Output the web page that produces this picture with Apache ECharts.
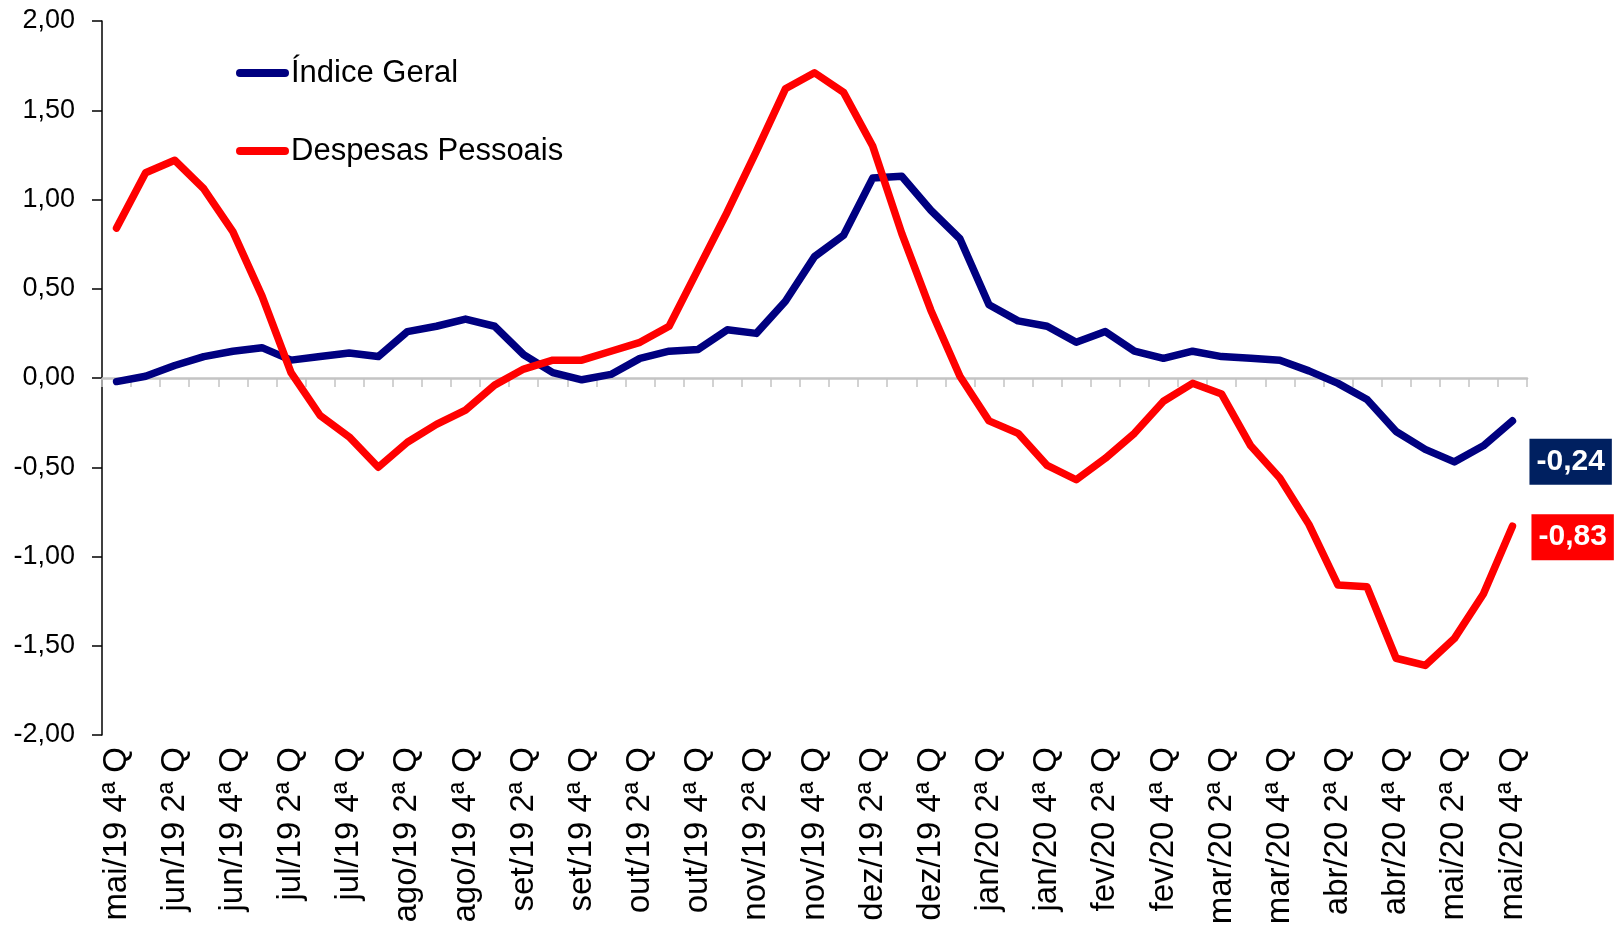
<!DOCTYPE html>
<html>
<head>
<meta charset="utf-8">
<script src="https://cdn.jsdelivr.net/npm/echarts@6/dist/echarts.min.js"></script>
<style>
html,body{margin:0;padding:0;background:#fff;}
#chart{width:1617px;height:927px;}
</style>
</head>
<body>
<div id="chart"></div>
<script>
const categories = [
  'mai/19 4ª Q','jun/19 1ª Q','jun/19 2ª Q','jun/19 3ª Q','jun/19 4ª Q',
  'jul/19 1ª Q','jul/19 2ª Q','jul/19 3ª Q','jul/19 4ª Q',
  'ago/19 1ª Q','ago/19 2ª Q','ago/19 3ª Q','ago/19 4ª Q',
  'set/19 1ª Q','set/19 2ª Q','set/19 3ª Q','set/19 4ª Q',
  'out/19 1ª Q','out/19 2ª Q','out/19 3ª Q','out/19 4ª Q',
  'nov/19 1ª Q','nov/19 2ª Q','nov/19 3ª Q','nov/19 4ª Q',
  'dez/19 1ª Q','dez/19 2ª Q','dez/19 3ª Q','dez/19 4ª Q',
  'jan/20 1ª Q','jan/20 2ª Q','jan/20 3ª Q','jan/20 4ª Q',
  'fev/20 1ª Q','fev/20 2ª Q','fev/20 3ª Q','fev/20 4ª Q',
  'mar/20 1ª Q','mar/20 2ª Q','mar/20 3ª Q','mar/20 4ª Q',
  'abr/20 1ª Q','abr/20 2ª Q','abr/20 3ª Q','abr/20 4ª Q',
  'mai/20 1ª Q','mai/20 2ª Q','mai/20 3ª Q','mai/20 4ª Q'
];
const indiceGeral = [
  -0.02, 0.01, 0.07, 0.12, 0.15, 0.17, 0.10, 0.12, 0.14, 0.12,
  0.26, 0.29, 0.33, 0.29, 0.13, 0.03, -0.01, 0.02, 0.11, 0.15,
  0.16, 0.27, 0.25, 0.43, 0.68, 0.80, 1.12, 1.13, 0.94, 0.78,
  0.41, 0.32, 0.29, 0.20, 0.26, 0.15, 0.11, 0.15, 0.12, 0.11,
  0.10, 0.04, -0.03, -0.12, -0.30, -0.40, -0.47, -0.38, -0.24
];
const despesasPessoais = [
  0.84, 1.15, 1.22, 1.06, 0.82, 0.46, 0.03, -0.21, -0.33, -0.50,
  -0.36, -0.26, -0.18, -0.04, 0.05, 0.10, 0.10, 0.15, 0.20, 0.29,
  0.61, 0.93, 1.27, 1.62, 1.71, 1.60, 1.30, 0.81, 0.38, 0.01,
  -0.24, -0.31, -0.49, -0.57, -0.45, -0.31, -0.13, -0.03, -0.09, -0.38,
  -0.56, -0.82, -1.16, -1.17, -1.57, -1.61, -1.46, -1.21, -0.83
];
const seriesNames = ['Índice Geral', 'Despesas Pessoais'];
const yTicks = { min: -2, max: 2, interval: 0.5 };

const FONT = '"Liberation Sans", Arial, sans-serif';
const fmt = v => v.toFixed(2).replace('.', ',');

const chart = echarts.init(document.getElementById('chart'), null, { renderer: 'canvas' });
chart.setOption({
  animation: false,
  backgroundColor: '#ffffff',
  grid: { left: 102, right: 90, top: 21, bottom: 192, containLabel: false, outerBoundsMode: 'none' },
  legend: {
    orient: 'vertical',
    left: 231,
    top: 48,
    itemWidth: 53,
    itemHeight: 8,
    itemGap: 38,
    icon: 'path://M4,0H49A4,4,0,0,1,49,8H4A4,4,0,0,1,4,0Z',
    textStyle: { fontFamily: FONT, fontSize: 31, color: '#000', lineHeight: 40, padding: [0,0,0,-3] },
    data: seriesNames
  },
  xAxis: [
    {
      type: 'category',
      data: categories,
      boundaryGap: true,
      axisLine: { show: true, onZero: true, lineStyle: { color: '#c4c4c4', width: 2.5 } },
      axisTick: { show: true, interval: 0, length: 9, lineStyle: { color: '#c4c4c4', width: 1.5 } },
      axisLabel: { show: false },
      splitLine: { show: false }
    },
    {
      type: 'category',
      data: categories,
      position: 'bottom',
      boundaryGap: true,
      axisLine: { show: false, onZero: false },
      axisTick: { show: false },
      axisLabel: {
        show: true, interval: 1, rotate: 90, margin: 12,
        fontFamily: FONT, fontSize: 33, color: '#000'
      },
      splitLine: { show: false }
    }
  ],
  yAxis: {
    type: 'value',
    min: yTicks.min, max: yTicks.max, interval: yTicks.interval,
    axisLine: { show: true, lineStyle: { color: '#000', width: 1.5 } },
    axisTick: { show: true, inside: false, length: 10, lineStyle: { color: '#000', width: 1.5 } },
    axisLabel: { fontFamily: FONT, fontSize: 27, color: '#000', margin: 27, formatter: fmt },
    splitLine: { show: false }
  },
  series: [
    {
      name: seriesNames[0],
      type: 'line',
      xAxisIndex: 0,
      data: indiceGeral,
      symbol: 'none',
      color: '#000080',
      lineStyle: { color: '#000080', width: 7.5, cap: 'round', join: 'round' },
      endLabel: {
        show: true,
        formatter: p => fmt(p.value),
        offset: [9, 41],
        backgroundColor: '#002060',
        color: '#fff',
        fontFamily: FONT,
        fontWeight: 'bold',
        fontSize: 30,
        lineHeight: 32,
        padding: [8, 7, 6, 7]
      }
    },
    {
      name: seriesNames[1],
      type: 'line',
      xAxisIndex: 0,
      data: despesasPessoais,
      symbol: 'none',
      color: '#ff0000',
      lineStyle: { color: '#ff0000', width: 7.5, cap: 'round', join: 'round' },
      endLabel: {
        show: true,
        formatter: p => fmt(p.value),
        offset: [11, 11],
        backgroundColor: '#ff0000',
        color: '#fff',
        fontFamily: FONT,
        fontWeight: 'bold',
        fontSize: 30,
        lineHeight: 32,
        padding: [8, 7, 6, 7]
      }
    }
  ]
});
</script>
</body>
</html>
